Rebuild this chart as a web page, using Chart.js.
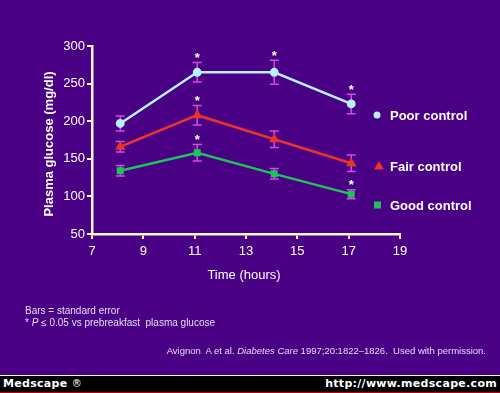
<!DOCTYPE html>
<html>
<head>
<meta charset="utf-8">
<script src="https://cdn.jsdelivr.net/npm/chart.js@4"></script>
<style>
  body { margin: 0; background: #4a0084; font-family: "Liberation Sans", Arial, sans-serif; }
  #wrap { position: relative; width: 500px; height: 393px; background: #4a0084; overflow: hidden; }
  #chart-box { position: absolute; left: 0; top: 0; width: 500px; height: 393px; }
  .note { position: absolute; color: #e4dcf4; font-size: 10px; white-space: nowrap; }
  #bar { position: absolute; left: 0; top: 375px; width: 500px; height: 16px; background: #000; border-top: 1px solid #fff; border-bottom: 2px solid #c00000; }
  #bar span { position: absolute; top: 1px; color: #fff; font-weight: bold; font-size: 11px; letter-spacing: 0.3px; font-family: "DejaVu Sans", "Liberation Sans", sans-serif; }
  #bar span.reg { position: static; font-weight: normal; font-family: "DejaVu Sans", sans-serif; font-size: 10px; }
</style>
</head>
<body>
<div id="wrap">
  <div id="chart-box"><canvas id="chart"></canvas></div>
  <div class="note" style="left:25px; top:305px;">Bars = standard error</div>
  <div class="note" style="left:25px; top:317px;">* <i>P</i> &le; 0.05 vs prebreakfast&nbsp; plasma glucose</div>
  <div class="note" style="right:14px; top:345px; font-size:9.5px;">Avignon&nbsp; A et al. <i>Diabetes Care</i> 1997;20:1822&ndash;1826.&nbsp; Used with permission.</div>
  <div id="bar"><span style="left:3px;">Medscape <span class="reg">&reg;&#xFE0E;</span></span><span style="right:3px;">http://www.medscape.com</span></div>
</div>
<script>
// time of measurement (hours)
const hours = [8.1, 11.1, 14.1, 17.1];

// plasma glucose means (mg/dl) and standard errors
const poor = [197, 265, 265, 223];
const poorErr = [10, 13, 16, 13];
const fair = [166, 208, 176, 144];
const fairErr = [7, 13, 11, 11];
const good = [134, 158, 130, 103];
const goodErr = [7, 11, 7, 6];

// P <= 0.05 vs prebreakfast
const poorSig = [false, true, true, true];
const fairSig = [false, true, false, false];
const goodSig = [false, true, false, true];

const seriesLabels = ["Poor control", "Fair control", "Good control"];
const xTicks = [7, 9, 11, 13, 15, 17, 19];
const yTicks = [50, 100, 150, 200, 250, 300];

const axisColor = "#fff6cc";
const errColor = "#d24be6";

function points(ys) {
  return hours.map((h, i) => ({ x: h, y: ys[i] }));
}

// error bars, asterisks, titles, legend
const extras = {
  id: "extras",
  beforeDatasetsDraw(chart) {
    const ctx = chart.ctx;
    const xs = chart.scales.x;
    const ys = chart.scales.y;
    const errs = [poorErr, fairErr, goodErr];
    ctx.save();
    ctx.strokeStyle = errColor;
    ctx.lineWidth = 1.5;
    chart.data.datasets.forEach((ds, d) => {
      ds.data.forEach((p, i) => {
        const px = xs.getPixelForValue(p.x);
        const top = ys.getPixelForValue(p.y + errs[d][i]);
        const bot = ys.getPixelForValue(p.y - errs[d][i]);
        ctx.beginPath();
        ctx.moveTo(px, top); ctx.lineTo(px, bot);
        ctx.moveTo(px - 4.5, top); ctx.lineTo(px + 4.5, top);
        ctx.moveTo(px - 4.5, bot); ctx.lineTo(px + 4.5, bot);
        ctx.stroke();
      });
    });
    ctx.restore();
  },
  afterDraw(chart) {
    const ctx = chart.ctx;
    const xs = chart.scales.x;
    const ys = chart.scales.y;
    const errs = [poorErr, fairErr, goodErr];
    const sigs = [poorSig, fairSig, goodSig];
    ctx.save();
    ctx.fillStyle = "#ffffff";
    ctx.textAlign = "center";
    ctx.textBaseline = "middle";
    ctx.font = "bold 13px 'Liberation Sans', Arial, sans-serif";
    chart.data.datasets.forEach((ds, d) => {
      ds.data.forEach((p, i) => {
        if (!sigs[d][i]) return;
        const px = xs.getPixelForValue(p.x);
        const top = ys.getPixelForValue(p.y + errs[d][i]);
        ctx.fillText("*", px, top - 4);
      });
    });

    // axis titles
    ctx.font = "13px 'Liberation Sans', Arial, sans-serif";
    ctx.fillText("Time (hours)", 244, 275);
    ctx.save();
    ctx.translate(49, 144);
    ctx.rotate(-Math.PI / 2);
    ctx.font = "bold 13px 'Liberation Sans', Arial, sans-serif";
    ctx.fillText("Plasma glucose (mg/dl)", 0, 0);
    ctx.restore();

    // legend
    const legY = [115, 166, 205];
    ctx.textAlign = "left";
    ctx.font = "bold 13px 'Liberation Sans', Arial, sans-serif";
    chart.data.datasets.forEach((ds, d) => {
      const y = legY[d];
      ctx.fillStyle = ds.pointBackgroundColor;
      ctx.beginPath();
      if (d === 0) {
        ctx.arc(377, y, 3.5, 0, Math.PI * 2);
      } else if (d === 1) {
        ctx.moveTo(379, y - 5); ctx.lineTo(384, y + 3.5); ctx.lineTo(374, y + 3.5); ctx.closePath();
      } else {
        ctx.rect(374, y - 3.5, 7, 7);
      }
      ctx.fill();
      ctx.fillStyle = "#ffffff";
      ctx.fillText(seriesLabels[d], 390, y + 1);
    });
    ctx.restore();
  }
};

new Chart(document.getElementById("chart"), {
  type: "line",
  data: {
    datasets: [
      {
        label: seriesLabels[0],
        data: points(poor),
        borderColor: "#b8f0ff",
        backgroundColor: "#b8f0ff",
        pointBackgroundColor: "#b8f0ff",
        pointBorderColor: "#b8f0ff",
        pointStyle: "circle",
        pointRadius: 3.2,
        borderWidth: 2.5,
      },
      {
        label: seriesLabels[1],
        data: points(fair),
        borderColor: "#e8342c",
        backgroundColor: "#e8342c",
        pointBackgroundColor: "#e8342c",
        pointBorderColor: "#e8342c",
        pointStyle: "triangle",
        pointRadius: 3.5,
        borderWidth: 2.5,
      },
      {
        label: seriesLabels[2],
        data: points(good),
        borderColor: "#1ec45a",
        backgroundColor: "#1ec45a",
        pointBackgroundColor: "#1ec45a",
        pointBorderColor: "#1ec45a",
        pointStyle: "rect",
        pointRadius: 3.2,
        borderWidth: 2.5,
      },
    ],
  },
  options: {
    responsive: true,
    maintainAspectRatio: false,
    animation: false,
    layout: { padding: { left: 0, right: 100, top: 46, bottom: 0 } },
    plugins: { legend: { display: false }, tooltip: { enabled: false } },
    scales: {
      x: {
        type: "linear",
        min: 7,
        max: 19,
        afterBuildTicks: (s) => { s.ticks = xTicks.map((v) => ({ value: v })); },
        afterFit: (s) => { s.height = 159; },
        border: { color: axisColor, width: 2.5 },
        grid: { drawOnChartArea: false, drawTicks: true, tickLength: 5, color: axisColor, lineWidth: 2 },
        ticks: { color: "#ffffff", padding: 5, font: { size: 13, family: "'Liberation Sans', Arial, sans-serif" } },
      },
      y: {
        min: 50,
        max: 300,
        afterBuildTicks: (s) => { s.ticks = yTicks.map((v) => ({ value: v })); },
        afterFit: (s) => { s.width = 92; },
        border: { color: axisColor, width: 2.5 },
        grid: { drawOnChartArea: false, drawTicks: true, tickLength: 5, color: axisColor, lineWidth: 2 },
        ticks: { color: "#ffffff", padding: 2, font: { size: 13, family: "'Liberation Sans', Arial, sans-serif" } },
      },
    },
  },
  plugins: [extras],
});
</script>
</body>
</html>
